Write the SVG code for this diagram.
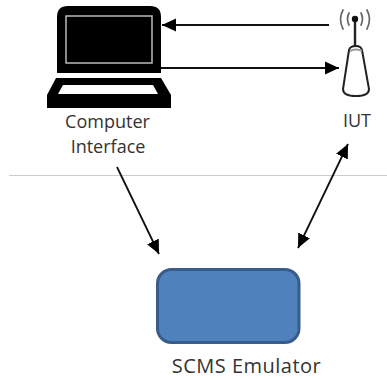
<svg xmlns="http://www.w3.org/2000/svg" width="387" height="379" viewBox="0 0 387 379">
<style>
text{font-family:"Open Sans","Liberation Sans",sans-serif;fill:#333;text-anchor:middle}
.c{stroke:#111;stroke-width:1.8;fill:none}
.g{stroke:#666;stroke-width:1.7;fill:none;stroke-linecap:round}
</style>
<defs>
<marker id="a" markerUnits="userSpaceOnUse" markerWidth="15" markerHeight="15" refX="14" refY="7" orient="auto-start-reverse"><path d="M0 0.500L14 7L0 13.500Z" fill="#000"/></marker>
</defs>
<rect width="387" height="379" fill="#fff"/>
<line x1="9" y1="175.500" x2="387" y2="175.500" stroke="#ccc" stroke-width="1"/>
<g id="computer">
<path d="M57 73V17Q57 6 68 6H150Q161 6 161 17V73Z" fill="#000"/>
<rect x="66" y="16" width="86" height="47" fill="#000" stroke="#bbb" stroke-width="1.500"/>
<path d="M56 78H161L171 95V108H47V95Z" fill="#000"/>
<path d="M63 85H153L158 94H58Z" fill="#fff"/>
<text x="107.500" y="128" font-size="18">Computer</text>
<text x="108" y="153" font-size="18">Interface</text>
</g>
<g id="iut">
<path d="M349 50Q350 46 356 46Q361 46 362 50L369 89Q369 96 356 96Q343 96 343 89Z" fill="#fff" stroke="#222" stroke-width="2"/>
<path d="M350 51Q356 48 362 51" fill="none" stroke="#999" stroke-width="2"/>
<line x1="355" y1="19" x2="355" y2="46" stroke="#222" stroke-width="2.400"/>
<circle cx="355" cy="19" r="3.200" fill="#111"/>
<path class="g" d="M349 13Q346 19 349 25M361 13Q364 19 361 25M343 10Q338 19 343 29M367 10Q372 19 367 29"/>
<text x="357" y="127" font-size="18">IUT</text>
</g>
<g id="scms">
<rect x="157.500" y="269.500" width="141.500" height="73" rx="14" fill="#4f81bd" stroke="#385d8a" stroke-width="3"/>
<text x="246.500" y="373" font-size="20" letter-spacing="0.500">SCMS Emulator</text>
</g>
<g id="connectors">
<line class="c" x1="329" y1="25" x2="162" y2="25" marker-end="url(#a)"/>
<line class="c" x1="161" y1="68" x2="339" y2="68" marker-end="url(#a)"/>
<line class="c" x1="117" y1="167" x2="159" y2="254" marker-end="url(#a)"/>
<line class="c" x1="298" y1="248" x2="348" y2="144" marker-start="url(#a)" marker-end="url(#a)"/>
</g>
</svg>
